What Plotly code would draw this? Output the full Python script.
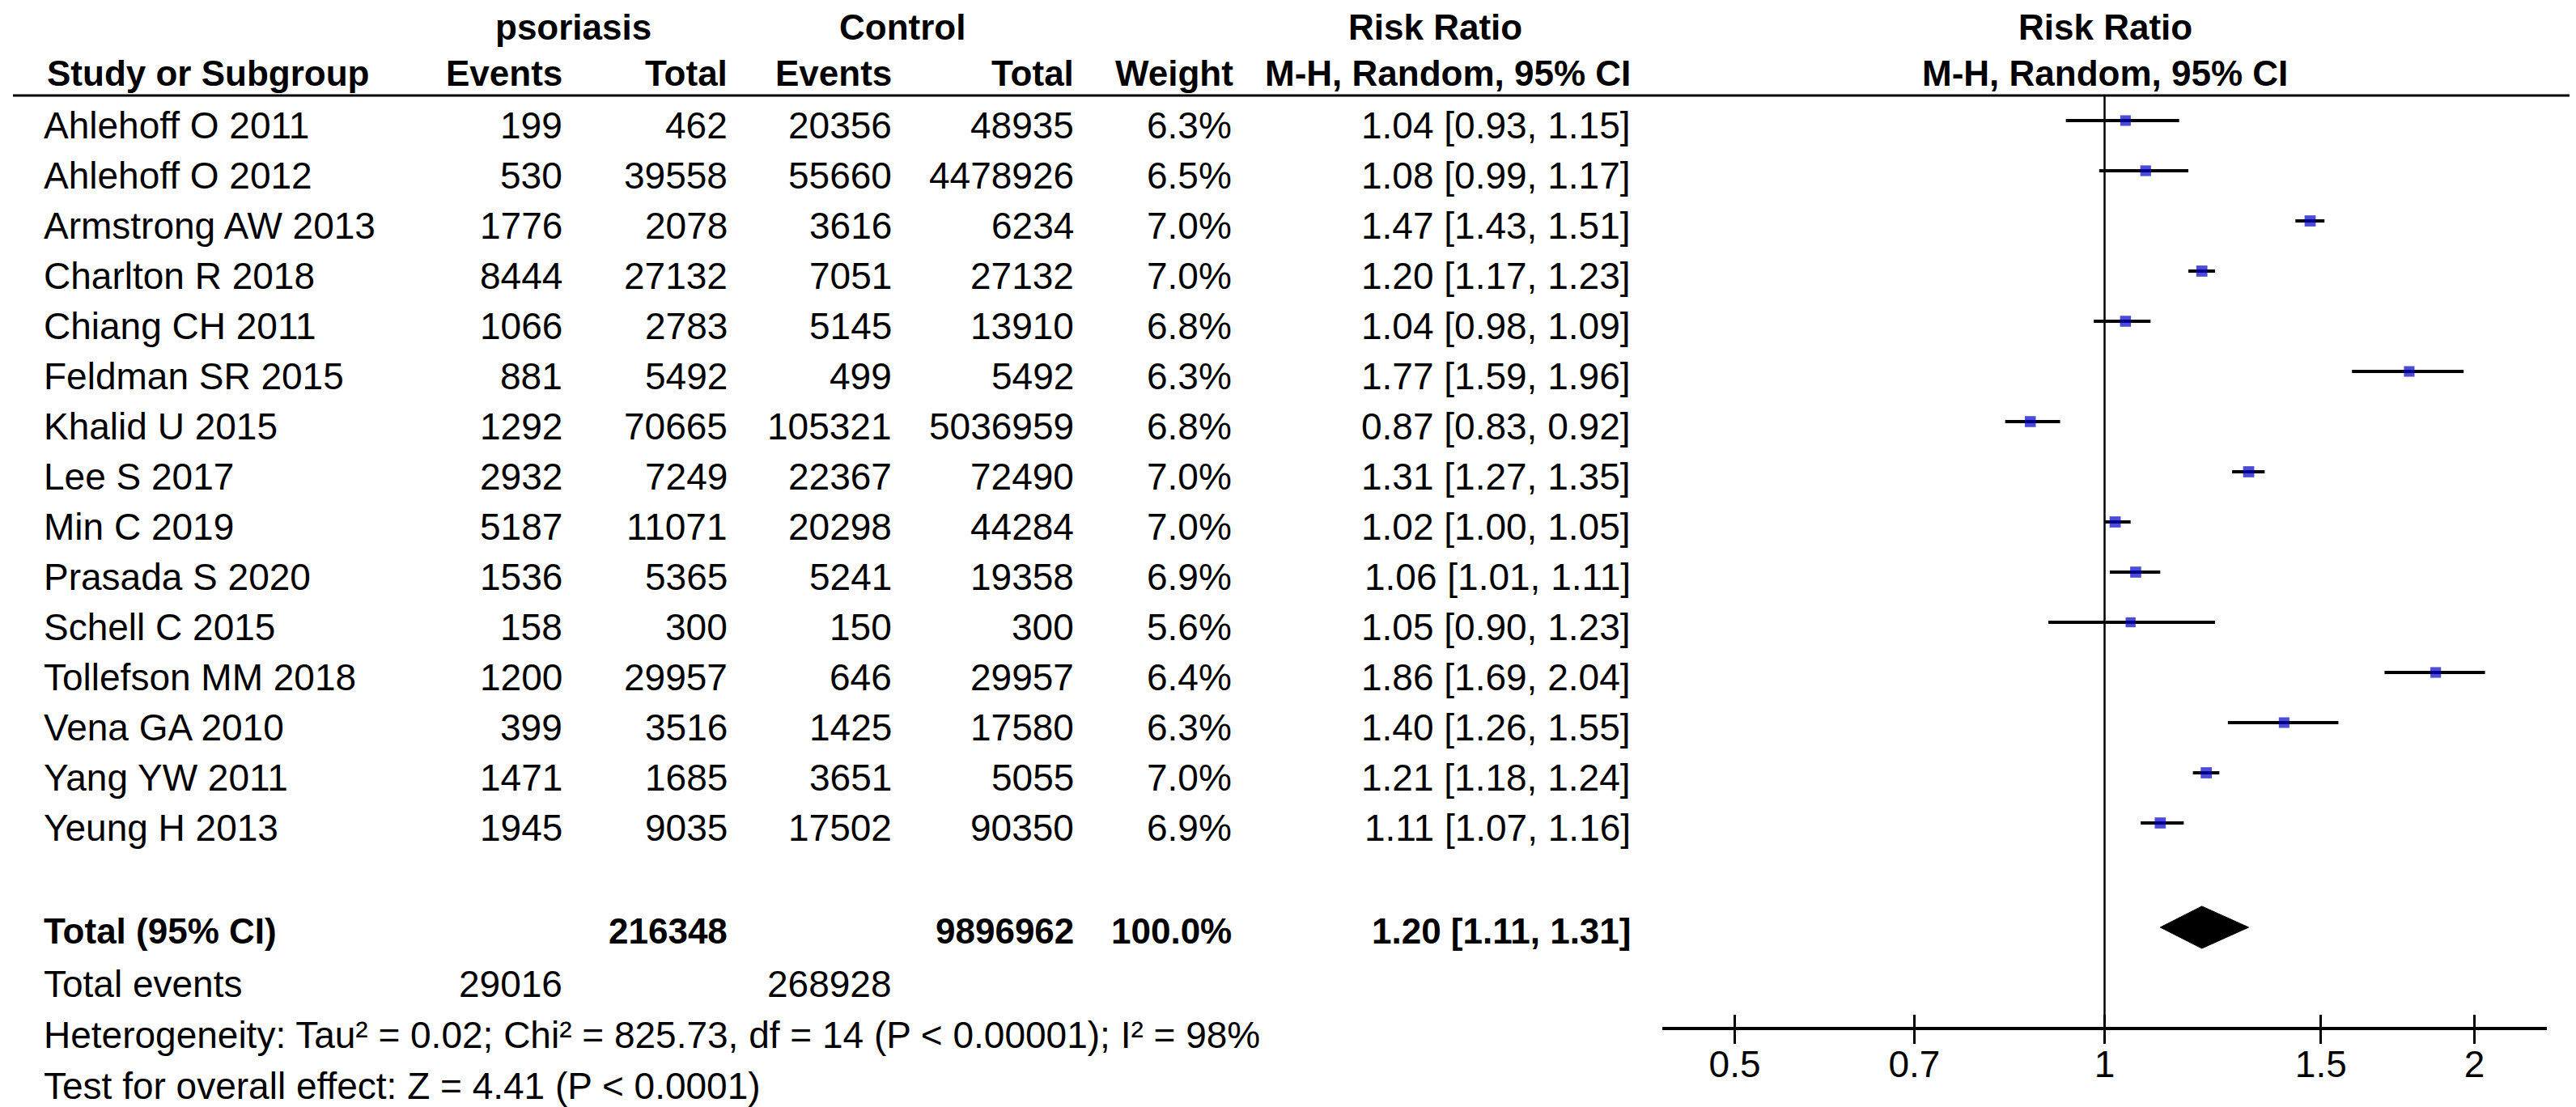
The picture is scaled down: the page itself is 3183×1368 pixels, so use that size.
import plotly.graph_objects as go

# ---------------- data ----------------
studies = ["Ahlehoff O 2011", "Ahlehoff O 2012", "Armstrong AW 2013", "Charlton R 2018",
           "Chiang CH 2011", "Feldman SR 2015", "Khalid U 2015", "Lee S 2017", "Min C 2019",
           "Prasada S 2020", "Schell C 2015", "Tollefson MM 2018", "Vena GA 2010",
           "Yang YW 2011", "Yeung H 2013"]
pso_events = [199, 530, 1776, 8444, 1066, 881, 1292, 2932, 5187, 1536, 158, 1200, 399, 1471, 1945]
pso_total = [462, 39558, 2078, 27132, 2783, 5492, 70665, 7249, 11071, 5365, 300, 29957, 3516, 1685, 9035]
ctl_events = [20356, 55660, 3616, 7051, 5145, 499, 105321, 22367, 20298, 5241, 150, 646, 1425, 3651, 17502]
ctl_total = [48935, 4478926, 6234, 27132, 13910, 5492, 5036959, 72490, 44284, 19358, 300, 29957, 17580, 5055, 90350]
weights = [6.3, 6.5, 7.0, 7.0, 6.8, 6.3, 6.8, 7.0, 7.0, 6.9, 5.6, 6.4, 6.3, 7.0, 6.9]
rr = [1.04, 1.08, 1.47, 1.20, 1.04, 1.77, 0.87, 1.31, 1.02, 1.06, 1.05, 1.86, 1.40, 1.21, 1.11]
rr_lo = [0.93, 0.99, 1.43, 1.17, 0.98, 1.59, 0.83, 1.27, 1.00, 1.01, 0.90, 1.69, 1.26, 1.18, 1.07]
rr_hi = [1.15, 1.17, 1.51, 1.23, 1.09, 1.96, 0.92, 1.35, 1.05, 1.11, 1.23, 2.04, 1.55, 1.24, 1.16]

total_pso = 216348
total_ctl = 9896962
total_weight = 100.0
events_pso = 29016
events_ctl = 268928
pooled = [1.20, 1.11, 1.31]  # estimate, lower, upper
heterogeneity = "Heterogeneity: Tau² = 0.02; Chi² = 825.73, df = 14 (P < 0.00001); I² = 98%"
overall = "Test for overall effect: Z = 4.41 (P < 0.0001)"

tick_vals = [0.5, 0.7, 1, 1.5, 2]
tick_text = ["0.5", "0.7", "1", "1.5", "2"]

# ---------------- layout constants ----------------
W, H = 3183, 1368
ROW0, ROWH = 141, 62          # pixel centre of first study row, row pitch
AXIS_Y = 1263                 # pixel y of the x-axis line
HEAD_LINE_Y = 110
FONT = "Arial, Liberation Sans, sans-serif"
FS = 46
FSB = 44
TSHIFT = -5                   # px correction: text box centre vs cap centre
TOTAL_ROW = 16.08

def px(x):
    return x / W

def py(y):
    return 1 - y / H

def row_of(pix):
    return (pix + TSHIFT - ROW0) / ROWH

fig = go.Figure()

# CI lines
ci_x, ci_y = [], []
for i, (lo, hi) in enumerate(zip(rr_lo, rr_hi)):
    ci_x += [lo, hi, None]
    ci_y += [i, i, None]
fig.add_trace(go.Scatter(x=ci_x, y=ci_y, mode="lines",
                         line=dict(color="black", width=4), hoverinfo="skip", showlegend=False))

# squares
fig.add_trace(go.Scatter(x=rr, y=list(range(len(rr))), mode="markers",
                         marker=dict(symbol="square", color="#0000C4",
                                     size=[5.2 * w ** 0.5 for w in weights],
                                     line=dict(width=0)),
                         showlegend=False, hoverinfo="skip"))

# diamond
est, lo, hi = pooled
dh = 0.42
fig.add_trace(go.Scatter(x=[lo, est, hi, est, lo],
                         y=[TOTAL_ROW, TOTAL_ROW - dh, TOTAL_ROW, TOTAL_ROW + dh, TOTAL_ROW],
                         mode="lines", fill="toself", fillcolor="black",
                         line=dict(color="black", width=1), showlegend=False, hoverinfo="skip"))

# dummy trace for the overlay axis (upward tick marks)
fig.add_trace(go.Scatter(x=[1], y=[0], xaxis="x2", mode="markers",
                         marker=dict(opacity=0), showlegend=False, hoverinfo="skip"))

ann = []

def text(x, pix, s, anchor="right", bold=False, yanchor="middle"):
    if bold:
        s = "<b>" + s + "</b>"
    y = row_of(pix) if yanchor == "middle" else (pix - ROW0) / ROWH
    ann.append(dict(x=px(x), xref="paper", y=y, yref="y", text=s, showarrow=False,
                    xanchor=anchor, yanchor=yanchor, borderpad=0,
                    font=dict(family=FONT, size=FSB if bold else FS, color="black")))

# headers (top row anchored to the top edge so it stays inside the page)
text(700, 0, "psoriasis", "center", True, "top")
text(1107, 0, "Control", "center", True, "top")
text(1765, 0, "Risk Ratio", "center", True, "top")
text(2593, 0, "Risk Ratio", "center", True, "top")
h2 = 87
text(49, h2, "Study or Subgroup", "left", True)
text(688, h2, "Events", "right", True)
text(892, h2, "Total", "right", True)
text(1095, h2, "Events", "right", True)
text(1320, h2, "Total", "right", True)
text(1517, h2, "Weight", "right", True)
text(2008, h2, "M-H, Random, 95% CI", "right", True)
text(2593, h2, "M-H, Random, 95% CI", "center", True)

# study rows
for i, s in enumerate(studies):
    y = ROW0 + 11 + ROWH * i
    text(45, y, s, "left")
    text(688, y, str(pso_events[i]))
    text(892, y, str(pso_total[i]))
    text(1095, y, str(ctl_events[i]))
    text(1320, y, str(ctl_total[i]))
    text(1515, y, f"{weights[i]:.1f}%")
    text(2008, y, f"{rr[i]:.2f} [{rr_lo[i]:.2f}, {rr_hi[i]:.2f}]")

# totals
yt = 1147
text(45, yt, "Total (95% CI)", "left", True)
text(892, yt, str(total_pso), "right", True)
text(1320, yt, str(total_ctl), "right", True)
text(1515, yt, f"{total_weight:.1f}%", "right", True)
text(2008, yt, f"{est:.2f} [{lo:.2f}, {hi:.2f}]", "right", True)
ye = 1213
text(45, ye, "Total events", "left")
text(688, ye, str(events_pso))
text(1095, ye, str(events_ctl))
text(45, 1276, heterogeneity, "left")
text(45, 1339, overall, "left")

shapes = [
    dict(type="line", xref="paper", yref="paper", x0=px(8), x1=px(3178),
         y0=py(HEAD_LINE_Y), y1=py(HEAD_LINE_Y), line=dict(color="black", width=3)),
    dict(type="line", xref="x", yref="paper", x0=1, x1=1,
         y0=py(AXIS_Y), y1=py(HEAD_LINE_Y), line=dict(color="black", width=2.5)),
]

xr = [-0.36, 0.36]
dom = [px(2046), px(3139)]
fig.update_layout(
    width=W, height=H, margin=dict(l=0, r=0, t=0, b=0),
    paper_bgcolor="white", plot_bgcolor="white",
    annotations=ann, shapes=shapes,
    xaxis=dict(type="log", range=xr, domain=dom, anchor="free", position=py(AXIS_Y),
               tickvals=tick_vals, ticktext=tick_text, ticks="outside", ticklen=17,
               tickwidth=3, tickcolor="black", showline=True, linewidth=4, linecolor="black",
               showgrid=False, zeroline=False, ticklabelstandoff=-14,
               tickfont=dict(family=FONT, size=FS, color="black")),
    xaxis2=dict(type="log", range=xr, domain=dom, anchor="free", position=py(AXIS_Y),
                overlaying="x", tickvals=tick_vals, ticks="inside", ticklen=17,
                tickwidth=3, tickcolor="black", showticklabels=False, showline=False,
                showgrid=False, zeroline=False),
    yaxis=dict(range=[(H - ROW0) / ROWH, -ROW0 / ROWH], domain=[0, 1], visible=False,
               showgrid=False, zeroline=False),
)

fig.write_html("out.html")
